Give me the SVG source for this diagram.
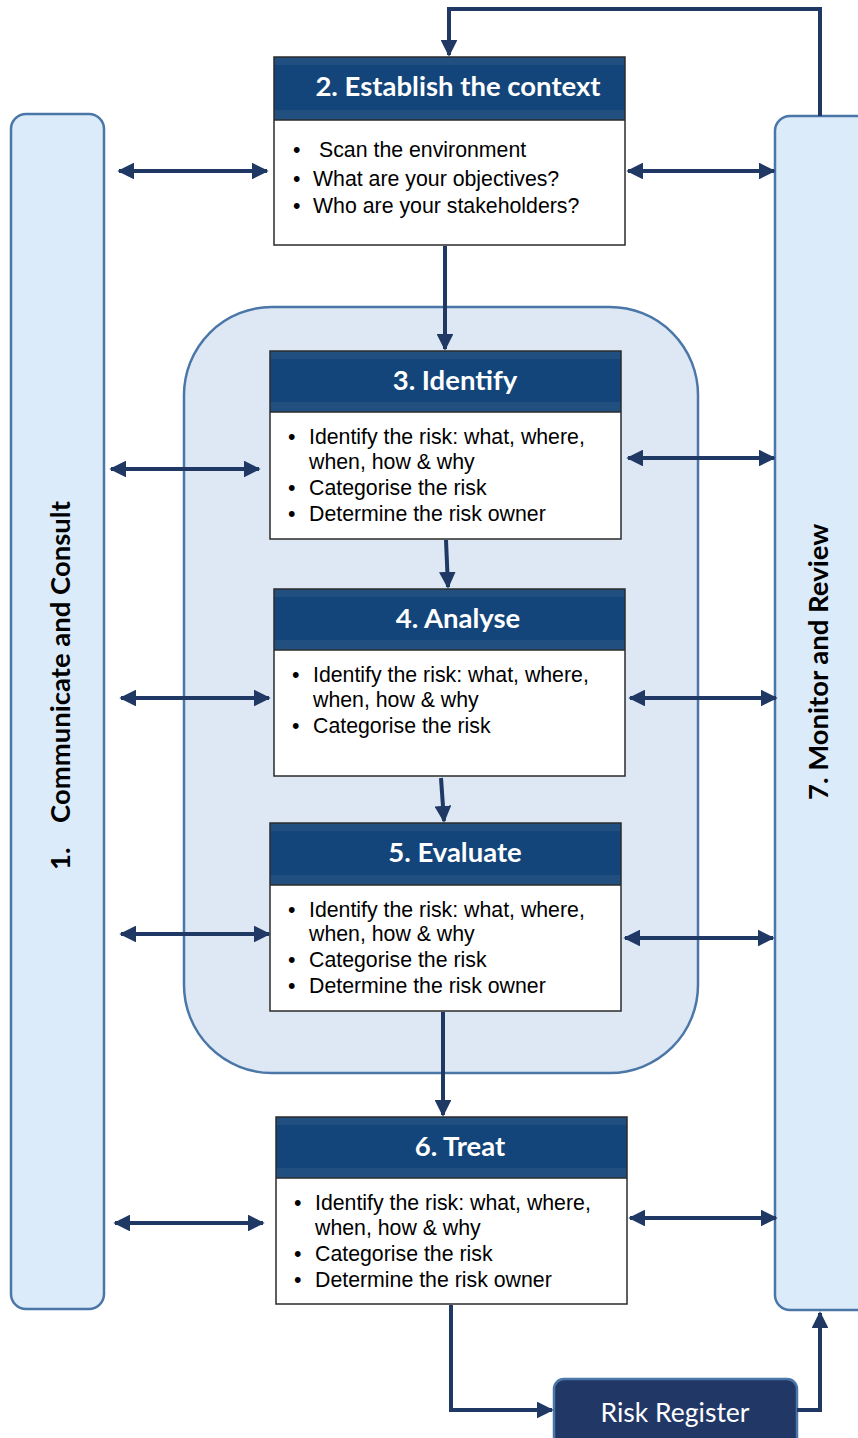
<svg xmlns="http://www.w3.org/2000/svg" width="858" height="1438" viewBox="0 0 858 1438">
  <defs>
    <marker id="ah" viewBox="0 0 10 10" refX="9" refY="5" markerWidth="4.2" markerHeight="4.2" markerUnits="strokeWidth" orient="auto-start-reverse">
      <path d="M0,0 L10,5 L0,10 Z" fill="#1f3864"/>
    </marker>
    <style>
      .bar { fill: #dcebfa; stroke: #4a76a8; stroke-width: 2.5; }
      .region { fill: #dde8f4; stroke: #4a76a8; stroke-width: 2.5; }
      .hdr { fill: #13457a; }
      .hdrband { fill: #215080; }
      .body { fill: #ffffff; }
      .frame { fill: none; stroke: #2b2b2b; stroke-width: 1.5; }
      .title { font-family: Lato, "Open Sans", sans-serif; font-weight: bold; font-size: 27.5px; fill: #ffffff; text-anchor: middle; }
      .txt { font-family: "Liberation Sans", Arial, sans-serif; font-size: 21.3px; fill: #000000; }
      .side { font-family: Lato, "Open Sans", sans-serif; font-weight: bold; font-size: 27.5px; fill: #000000; }
      .conn { fill: none; stroke: #1f3864; stroke-width: 4; }
      .reg { fill: #213866; stroke: #4a76a8; stroke-width: 2.5; }
      .regtxt { font-family: Lato, "Open Sans", sans-serif; font-size: 26.5px; fill: #ffffff; text-anchor: middle; }
    </style>
  </defs>

  <!-- side columns -->
  <g id="communicate">
    <rect class="bar" x="11" y="114" width="93" height="1195" rx="15"/>
    <text class="side" transform="translate(70,870) rotate(-90)">1.</text>
    <text class="side" transform="translate(70,823) rotate(-90)">Communicate and Consult</text>
  </g>
  <g id="monitor">
    <rect class="bar" x="775" y="116" width="100" height="1194" rx="15"/>
    <text class="side" transform="translate(828,800) rotate(-90)">7. Monitor and Review</text>
  </g>

  <!-- assessment region -->
  <g id="assessment">
    <rect class="region" x="184" y="307" width="514" height="766" rx="88"/>
  </g>

  <!-- 2. Establish the context -->
  <g id="context">
    <rect class="body" x="274" y="57" width="351" height="188"/>
    <rect class="hdr" x="274" y="57" width="351" height="63"/>
    <rect class="hdrband" x="274" y="57" width="351" height="8"/>
    <rect class="hdrband" x="274" y="110" width="351" height="10"/>
    <line x1="274" y1="120" x2="625" y2="120" stroke="#2b2b2b" stroke-width="1.5"/>
    <rect class="frame" x="274" y="57" width="351" height="188"/>
    <text class="title" x="458" y="96">2. Establish the context</text>
    <text class="txt" x="293" y="157">•<tspan x="319">Scan the environment</tspan></text>
    <text class="txt" x="293" y="186">•<tspan x="313">What are your objectives?</tspan></text>
    <text class="txt" x="293" y="213">•<tspan x="313">Who are your stakeholders?</tspan></text>
  </g>

  <!-- 3. Identify -->
  <g id="identify">
    <rect class="body" x="270" y="351" width="351" height="188"/>
    <rect class="hdr" x="270" y="351" width="351" height="61"/>
    <rect class="hdrband" x="270" y="351" width="351" height="8"/>
    <rect class="hdrband" x="270" y="402" width="351" height="10"/>
    <line x1="270" y1="412" x2="621" y2="412" stroke="#2b2b2b" stroke-width="1.5"/>
    <rect class="frame" x="270" y="351" width="351" height="188"/>
    <text class="title" x="455" y="390">3. Identify</text>
    <text class="txt" x="288" y="444">•<tspan x="309">Identify the risk: what, where,</tspan></text>
    <text class="txt" x="309" y="469">when, how &amp; why</text>
    <text class="txt" x="288" y="495">•<tspan x="309">Categorise the risk</tspan></text>
    <text class="txt" x="288" y="521">•<tspan x="309">Determine the risk owner</tspan></text>
  </g>

  <!-- 4. Analyse -->
  <g id="analyse">
    <rect class="body" x="274" y="589" width="351" height="187"/>
    <rect class="hdr" x="274" y="589" width="351" height="61"/>
    <rect class="hdrband" x="274" y="589" width="351" height="8"/>
    <rect class="hdrband" x="274" y="640" width="351" height="10"/>
    <line x1="274" y1="650" x2="625" y2="650" stroke="#2b2b2b" stroke-width="1.5"/>
    <rect class="frame" x="274" y="589" width="351" height="187"/>
    <text class="title" x="458" y="628">4. Analyse</text>
    <text class="txt" x="292" y="682">•<tspan x="313">Identify the risk: what, where,</tspan></text>
    <text class="txt" x="313" y="707">when, how &amp; why</text>
    <text class="txt" x="292" y="733">•<tspan x="313">Categorise the risk</tspan></text>
  </g>

  <!-- 5. Evaluate -->
  <g id="evaluate">
    <rect class="body" x="270" y="823" width="351" height="188"/>
    <rect class="hdr" x="270" y="823" width="351" height="62"/>
    <rect class="hdrband" x="270" y="823" width="351" height="8"/>
    <rect class="hdrband" x="270" y="875" width="351" height="10"/>
    <line x1="270" y1="885" x2="621" y2="885" stroke="#2b2b2b" stroke-width="1.5"/>
    <rect class="frame" x="270" y="823" width="351" height="188"/>
    <text class="title" x="455" y="862">5. Evaluate</text>
    <text class="txt" x="288" y="917">•<tspan x="309">Identify the risk: what, where,</tspan></text>
    <text class="txt" x="309" y="941">when, how &amp; why</text>
    <text class="txt" x="288" y="967">•<tspan x="309">Categorise the risk</tspan></text>
    <text class="txt" x="288" y="993">•<tspan x="309">Determine the risk owner</tspan></text>
  </g>

  <!-- 6. Treat -->
  <g id="treat">
    <rect class="body" x="276" y="1117" width="351" height="187"/>
    <rect class="hdr" x="276" y="1117" width="351" height="61"/>
    <rect class="hdrband" x="276" y="1117" width="351" height="8"/>
    <rect class="hdrband" x="276" y="1168" width="351" height="10"/>
    <line x1="276" y1="1178" x2="627" y2="1178" stroke="#2b2b2b" stroke-width="1.5"/>
    <rect class="frame" x="276" y="1117" width="351" height="187"/>
    <text class="title" x="460" y="1156">6. Treat</text>
    <text class="txt" x="294" y="1210">•<tspan x="315">Identify the risk: what, where,</tspan></text>
    <text class="txt" x="315" y="1235">when, how &amp; why</text>
    <text class="txt" x="294" y="1261">•<tspan x="315">Categorise the risk</tspan></text>
    <text class="txt" x="294" y="1287">•<tspan x="315">Determine the risk owner</tspan></text>
  </g>

  <!-- risk register -->
  <g id="register">
    <rect class="reg" x="554" y="1379" width="243" height="70" rx="10"/>
    <text class="regtxt" x="675" y="1422">Risk Register</text>
  </g>

  <!-- connectors -->
  <g id="connectors">
    <!-- review loop back to context -->
    <path class="conn" d="M820,116 V9 H449 V55" marker-end="url(#ah)"/>
    <!-- main flow -->
    <line class="conn" x1="445" y1="246" x2="445" y2="349" marker-end="url(#ah)"/>
    <line class="conn" x1="446" y1="540" x2="448" y2="587" marker-end="url(#ah)"/>
    <line class="conn" x1="441" y1="778" x2="444" y2="821" marker-end="url(#ah)"/>
    <line class="conn" x1="443" y1="1012" x2="443" y2="1115" marker-end="url(#ah)"/>
    <path class="conn" d="M451,1305 V1410 H552" marker-end="url(#ah)"/>
    <path class="conn" d="M797,1410 H820 V1313" marker-end="url(#ah)"/>
    <!-- communicate side -->
    <line class="conn" x1="119" y1="171" x2="267" y2="171" marker-start="url(#ah)" marker-end="url(#ah)"/>
    <line class="conn" x1="111" y1="469" x2="259" y2="469" marker-start="url(#ah)" marker-end="url(#ah)"/>
    <line class="conn" x1="121" y1="698" x2="269" y2="698" marker-start="url(#ah)" marker-end="url(#ah)"/>
    <line class="conn" x1="121" y1="934" x2="269" y2="934" marker-start="url(#ah)" marker-end="url(#ah)"/>
    <line class="conn" x1="115" y1="1223" x2="263" y2="1223" marker-start="url(#ah)" marker-end="url(#ah)"/>
    <!-- monitor side -->
    <line class="conn" x1="628" y1="171" x2="774" y2="171" marker-start="url(#ah)" marker-end="url(#ah)"/>
    <line class="conn" x1="628" y1="458" x2="774" y2="458" marker-start="url(#ah)" marker-end="url(#ah)"/>
    <line class="conn" x1="630" y1="698" x2="776" y2="698" marker-start="url(#ah)" marker-end="url(#ah)"/>
    <line class="conn" x1="625" y1="938" x2="773" y2="938" marker-start="url(#ah)" marker-end="url(#ah)"/>
    <line class="conn" x1="630" y1="1218" x2="776" y2="1218" marker-start="url(#ah)" marker-end="url(#ah)"/>
  </g>
</svg>
